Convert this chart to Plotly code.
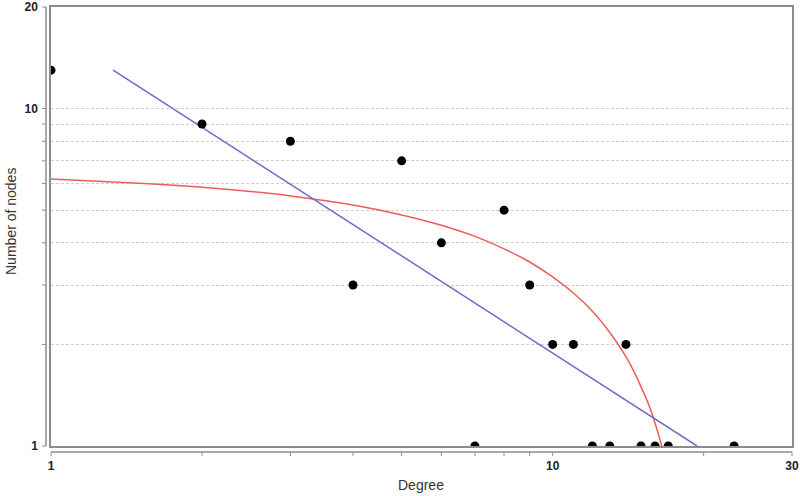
"""
Distribuição de grau (log-log) com ajuste linear e ajuste de lei de potência
"""

import numpy as np
import plotly.graph_objects as go

# Dados observados: grau x número de nós
degree = [1, 2, 3, 4, 5, 6, 7, 8, 9, 10, 11, 12, 13, 14, 15, 16, 17, 23]
n_nodes = [13, 9, 8, 3, 7, 4, 1, 5, 3, 2, 2, 1, 1, 2, 1, 1, 1, 1]

# Reta de lei de potência (azul), extremos
power_x = [1.33, 19.4]
power_y = [13.0, 1.0]

# Curva vermelha, pontos
curve_x = [1, 1.5, 2, 2.5, 3, 4, 5, 6, 7, 8, 9, 10, 11, 12, 13, 14, 14.5, 15, 15.5, 16, 16.5]
curve_y = [6.18, 6.01, 5.85, 5.68, 5.51, 5.18, 4.84, 4.51, 4.18, 3.84, 3.51, 3.17,
           2.84, 2.51, 2.17, 1.84, 1.67, 1.50, 1.34, 1.17, 1.00]

# Ticks
x_tickvals = [1, 2, 3, 4, 5, 6, 7, 8, 9, 10, 20, 30]
x_ticktext = ['1', '', '', '', '', '', '', '', '', '10', '', '30']
y_tickvals = [1, 2, 3, 4, 5, 6, 7, 8, 9, 10, 20]
y_ticktext = ['1', '', '', '', '', '', '', '', '', '10', '20']

X_MAX = 30
Y_MAX = 20

# Geometria em pixels (área do gráfico = moldura)
W, H = 800, 496
L, R, T, B = 51, 792, 7, 446
PW, PH = R - L, B - T

AXIS_COLOR = '#8c8c8c'
GRID_COLOR = '#cfcfcf'
FONT = 'Liberation Sans, Arial, sans-serif'

fig = go.Figure()

fig.add_trace(go.Scatter(
    x=curve_x, y=curve_y,
    mode='lines',
    line=dict(color='#ee5c5c', width=1.5, shape='spline', smoothing=0.8),
    hoverinfo='skip'
))

fig.add_trace(go.Scatter(
    x=power_x, y=power_y,
    mode='lines',
    line=dict(color='#6b6bcc', width=1.5),
    hoverinfo='skip'
))

fig.add_trace(go.Scatter(
    x=degree, y=n_nodes,
    mode='markers',
    marker=dict(color='black', size=9),
    cliponaxis=True,
    hovertemplate='Grau %{x}<br>%{y} nós<extra></extra>'
))

# Eixos deslocados da moldura (desenhados como shapes em coordenadas paper)
def px_x(px):
    return (px - L) / PW

def px_y(px):
    return (B - px) / PH

shapes = [
    # eixo y
    dict(type='line', xref='paper', yref='paper',
         x0=px_x(46), x1=px_x(46), y0=px_y(B), y1=px_y(T),
         line=dict(color=AXIS_COLOR, width=1.5)),
    # eixo x
    dict(type='line', xref='paper', yref='paper',
         x0=px_x(L), x1=px_x(R), y0=px_y(452), y1=px_y(452),
         line=dict(color=AXIS_COLOR, width=1.5)),
]

for v in x_tickvals:
    xp = np.log10(v) / np.log10(X_MAX)
    shapes.append(dict(type='line', xref='paper', yref='paper',
                       x0=xp, x1=xp, y0=px_y(452), y1=px_y(456),
                       line=dict(color=AXIS_COLOR, width=1)))

for v in y_tickvals:
    yp = np.log10(v) / np.log10(Y_MAX)
    shapes.append(dict(type='line', xref='paper', yref='paper',
                       x0=px_x(42), x1=px_x(46), y0=yp, y1=yp,
                       line=dict(color=AXIS_COLOR, width=1)))

fig.update_layout(
    width=W, height=H,
    margin=dict(l=L, r=W - R, t=T, b=H - B),
    plot_bgcolor='white',
    paper_bgcolor='white',
    showlegend=False,
    font=dict(family=FONT, color='#222222'),
    shapes=shapes,
    annotations=[
        dict(text='Degree', xref='paper', yref='paper',
             x=px_x(421), y=px_y(485), xanchor='center', yanchor='middle',
             showarrow=False, font=dict(size=14, color='#333333')),
        dict(text='Number of nodes', xref='paper', yref='paper',
             x=px_x(11), y=px_y(222), xanchor='center', yanchor='middle',
             textangle=-90, showarrow=False, font=dict(size=14, color='#333333')),
    ]
)

fig.update_xaxes(
    type='log',
    range=[0, np.log10(X_MAX)],
    automargin=False,
    tickvals=x_tickvals,
    ticktext=x_ticktext,
    ticks='outside',
    ticklen=8,
    tickcolor='rgba(0,0,0,0)',
    tickfont=dict(size=12, weight='bold', color='#222222'),
    showgrid=False,
    zeroline=False,
    showline=True,
    mirror=True,
    linecolor=AXIS_COLOR,
    linewidth=1.5
)

fig.update_yaxes(
    type='log',
    range=[0, np.log10(Y_MAX)],
    automargin=False,
    tickvals=y_tickvals,
    ticktext=y_ticktext,
    ticks='outside',
    ticklen=9,
    tickcolor='rgba(0,0,0,0)',
    tickfont=dict(size=12, weight='bold', color='#222222'),
    showgrid=True,
    gridcolor=GRID_COLOR,
    griddash='3px,2px',
    gridwidth=1,
    zeroline=False,
    showline=True,
    mirror=True,
    linecolor=AXIS_COLOR,
    linewidth=1.5
)

# Remove a margem padrão do <body> para o gráfico ocupar a janela toda
fig.write_html("out.html", config={'displayModeBar': False},
               post_script="document.body.style.margin='0';")
